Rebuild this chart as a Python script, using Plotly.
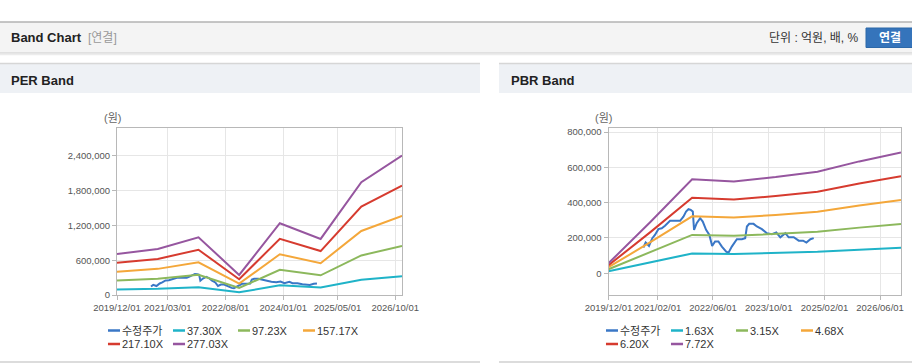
import plotly.graph_objects as go
import numpy as np

W, H = 912, 364
FONT = "Liberation Sans, Arial, 'Noto Sans CJK KR', sans-serif"
TICKFONT = "Liberation Sans, Arial, sans-serif"

# ---------------- data ----------------
band_dates = ["2019-12-01", "2020-12-01", "2021-12-01", "2022-12-01",
              "2023-12-01", "2024-12-01", "2025-12-01", "2026-12-01"]
eps = [2556, 2867, 3595, 1246, 4467, 3490, 7022, 8684]          # 원/주
bps = [7340, 37600, 69000, 67400, 70600, 74500, 82100, 88700]    # 원/주
per_multiples = [37.30, 97.23, 157.17, 217.10, 277.03]
pbr_multiples = [1.63, 3.15, 4.68, 6.20, 7.72]

price_dates = ["2020-10-01", "2020-10-21", "2020-11-19", "2020-12-18", "2021-01-10",
               "2021-02-09", "2021-03-10", "2021-04-08", "2021-05-22", "2021-07-05",
               "2021-08-18", "2021-09-16", "2021-10-09", "2021-10-30", "2021-11-19",
               "2021-12-07", "2021-12-18", "2022-01-10", "2022-02-09", "2022-03-04",
               "2022-04-02", "2022-05-01", "2022-05-25", "2022-06-20", "2022-07-19",
               "2022-08-18", "2022-09-25", "2022-10-15", "2022-11-13", "2022-12-27",
               "2023-02-09", "2023-03-10", "2023-03-25", "2023-04-14", "2023-05-22",
               "2023-06-20", "2023-08-03", "2023-09-16", "2023-10-30", "2023-12-07",
               "2024-01-11", "2024-02-24", "2024-03-24", "2024-05-07", "2024-06-20",
               "2024-07-28", "2024-08-26", "2024-09-30", "2024-10-29"]
price = [146000, 174000, 155000, 199000, 217000,
         250000, 255000, 269000, 297000, 299000,
         297000, 321000, 350000, 363000, 359000,
         350000, 246000, 284000, 312000, 293000,
         246000, 217000, 155000, 180000, 180000,
         151000, 123000, 117000, 151000, 193000,
         193000, 199000, 265000, 280000, 280000,
         265000, 250000, 227000, 221000, 231000,
         204000, 227000, 204000, 204000, 185000,
         185000, 174000, 193000, 199000]

per_xticks = ["2019-12-01", "2021-03-01", "2022-08-01", "2024-01-01", "2025-05-01", "2026-10-01"]
pbr_xticks = ["2019-12-01", "2021-02-01", "2022-06-01", "2023-10-01", "2025-02-01", "2026-06-01"]
per_yticks = [0, 600000, 1200000, 1800000, 2400000]
pbr_yticks = [0, 200000, 400000, 600000, 800000]

price_name = "수정주가"
band_colors = ["#1fb3c8", "#8cb85c", "#f4a73a", "#d63b2f", "#96569f"]
price_color = "#3a77c6"


def px(x):
    return x / W


def py(y):
    return 1 - y / H


fig = go.Figure()

# ---------------- PER band ----------------
fig.add_trace(go.Scatter(x=price_dates, y=price, mode="lines", name=price_name,
                         line=dict(color=price_color, width=2), showlegend=False,
                         xaxis="x", yaxis="y"))
for m, c in zip(per_multiples, band_colors):
    fig.add_trace(go.Scatter(x=band_dates, y=np.array(eps) * m, mode="lines",
                             name=f"{m:.2f}X", line=dict(color=c, width=2),
                             showlegend=False, xaxis="x", yaxis="y"))

# ---------------- PBR band ----------------
fig.add_trace(go.Scatter(x=price_dates, y=price, mode="lines", name=price_name,
                         line=dict(color=price_color, width=2), showlegend=False,
                         xaxis="x2", yaxis="y2"))
for m, c in zip(pbr_multiples, band_colors):
    fig.add_trace(go.Scatter(x=band_dates, y=np.array(bps) * m, mode="lines",
                             name=f"{m:.2f}X", line=dict(color=c, width=2),
                             showlegend=False, xaxis="x2", yaxis="y2"))


# ---------------- legend entries ----------------
def legend_entry(name, color, legend_id, xa, ya, last):
    return go.Scatter(x=[None], y=[None], mode="markers", name=name, legend=legend_id,
                      marker=dict(symbol="line-ns", size=8.6, angle=90, standoff=12,
                                  color=color, line=dict(width=2.5, color=color)),
                      legendwidth=60 if last else None,
                      xaxis=xa, yaxis=ya, hoverinfo="skip", showlegend=True)


per_names = [price_name] + [f"{m:.2f}X" for m in per_multiples]
pbr_names = [price_name] + [f"{m:.2f}X" for m in pbr_multiples]
all_colors = [price_color] + band_colors
for i, (n, c) in enumerate(zip(per_names, all_colors)):
    fig.add_trace(legend_entry(n, c, "legend" if i < 4 else "legend2", "x", "y", i in (3, 5)))
for i, (n, c) in enumerate(zip(pbr_names, all_colors)):
    fig.add_trace(legend_entry(n, c, "legend3" if i < 4 else "legend4", "x2", "y2", i in (3, 5)))


def leg(x, y):
    return dict(orientation="h", x=px(x), y=py(y), xref="container", yref="container",
                xanchor="left", yanchor="middle",
                entrywidth=20, entrywidthmode="pixels", itemwidth=30,
                font=dict(size=11, color="#333", family=FONT),
                bgcolor="rgba(0,0,0,0)", borderwidth=0, traceorder="normal")


# ---------------- axes ----------------
def xax(domain, ticks, anchor):
    return dict(domain=domain, type="date", range=["2019-12-01", "2026-12-01"],
                tickvals=ticks, tickformat="%Y/%m/%d", tickangle=0, showgrid=True,
                gridcolor="#e6e6e6", gridwidth=1, showline=True, linecolor="#b8b8b8",
                linewidth=1, mirror=True, ticks="outside", ticklen=4, tickcolor="#b8b8b8",
                tickfont=dict(size=9.5, color="#555", family=TICKFONT), fixedrange=True,
                zeroline=False, anchor=anchor, automargin=False)


def yax(domain, rng, ticks, anchor):
    return dict(domain=domain, range=rng, tickvals=ticks, tickformat=",",
                showgrid=True, gridcolor="#e6e6e6", gridwidth=1, showline=True,
                linecolor="#b8b8b8", linewidth=1, mirror=True, ticks="outside",
                ticklen=4, tickcolor="#b8b8b8", zeroline=False, anchor=anchor,
                tickfont=dict(size=9.5, color="#555", family=TICKFONT), fixedrange=True,
                automargin=False)


ydom = [py(295), py(128)]

# ---------------- page chrome ----------------
shapes = [
    dict(type="rect", xref="paper", yref="paper", x0=0, x1=1, y0=py(53), y1=py(22),
         fillcolor="#f4f4f4", line=dict(width=0), layer="below"),
    dict(type="line", xref="paper", yref="paper", x0=0, x1=1, y0=py(22), y1=py(22),
         line=dict(color="#b3b3b3", width=1.5)),
    dict(type="line", xref="paper", yref="paper", x0=0, x1=1, y0=py(53), y1=py(53),
         line=dict(color="#cccccc", width=1)),
    dict(type="line", xref="paper", yref="paper", x0=0, x1=1, y0=py(54.5), y1=py(54.5),
         line=dict(color="#ececec", width=1.5)),
    dict(type="rect", xref="paper", yref="paper", x0=px(866), x1=px(914), y0=py(47.5), y1=py(28),
         fillcolor="#3574bb", line=dict(color="#2d68a8", width=1)),
]
for x0, x1 in [(0, 480), (499, 912)]:
    shapes += [
        dict(type="rect", xref="paper", yref="paper", x0=px(x0), x1=px(x1), y0=py(93), y1=py(64),
             fillcolor="#eef1f5", line=dict(width=0), layer="below"),
        dict(type="line", xref="paper", yref="paper", x0=px(x0), x1=px(x1), y0=py(63.5), y1=py(63.5),
             line=dict(color="#d6d6d6", width=1.5)),
        dict(type="line", xref="paper", yref="paper", x0=px(x0), x1=px(x1), y0=py(362), y1=py(362),
             line=dict(color="#d0d0d0", width=1.5)),
    ]


def ann(text, x, y, size=12, color="#333", xanchor="left"):
    return dict(text=text, x=px(x), y=py(y), xref="paper", yref="paper", showarrow=False,
                xanchor=xanchor, yanchor="middle", font=dict(size=size, color=color, family=FONT))


annotations = [
    ann("<b>Band Chart</b>", 9, 38, 13, "#222"),
    ann("[연결]", 86, 38, 12, "#999"),
    ann("단위 : 억원, 배, %", 861, 38, 12, "#333", "right"),
    ann("<b>연결</b>", 890, 38, 12, "#ffffff", "center"),
    ann("<b>PER Band</b>", 9, 80, 13, "#222"),
    ann("<b>PBR Band</b>", 509, 80, 13, "#222"),
    ann("(원)", 112, 118, 11, "#666", "center"),
    ann("(원)", 603, 118, 11, "#666", "center"),
]

fig.update_layout(
    width=W, height=H, margin=dict(l=0, r=0, t=0, b=0, pad=0, autoexpand=False),
    paper_bgcolor="#ffffff", plot_bgcolor="#ffffff",
    font=dict(family=FONT, size=11, color="#333"),
    xaxis=xax([px(117), px(402)], per_xticks, "y"),
    yaxis=yax(ydom, [0, 2880000], per_yticks, "x"),
    xaxis2=xax([px(608.5), px(901)], pbr_xticks, "y2"),
    yaxis2=yax(ydom, [-123000, 823000], pbr_yticks, "x2"),
    legend=leg(82, 330.5), legend2=leg(82, 344),
    legend3=leg(580, 330.5), legend4=leg(580, 344),
    shapes=shapes, annotations=annotations, showlegend=True,
    hovermode=False,
)

fig.write_html(
    "out.html",
    config={"displayModeBar": False},
    post_script=("document.body.style.margin='0';document.body.style.overflow='hidden';"
                 "document.documentElement.style.overflow='hidden';"),
)
